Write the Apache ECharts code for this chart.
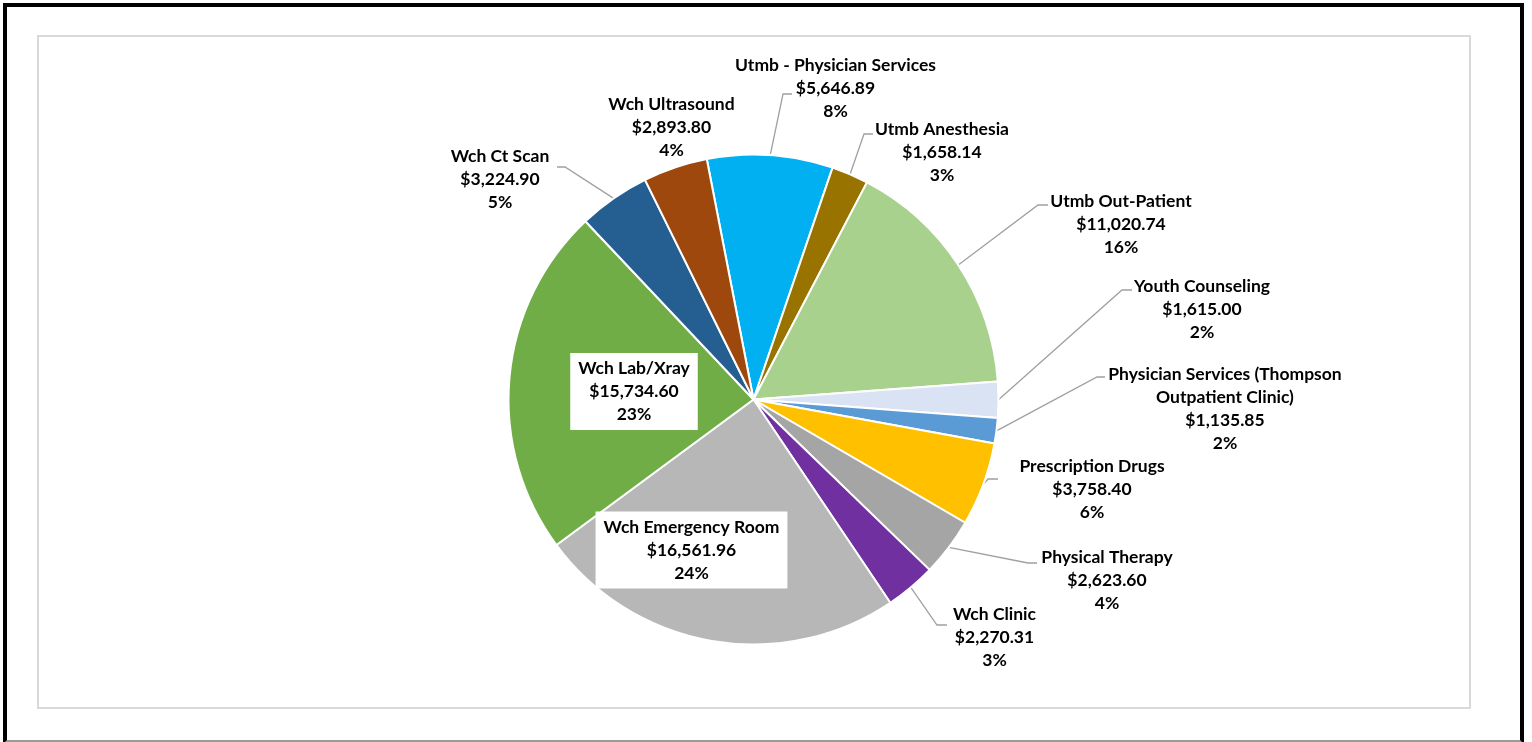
<!DOCTYPE html>
<html>
<head>
<meta charset="utf-8">
<script src="https://cdn.jsdelivr.net/npm/echarts@6/dist/echarts.min.js"></script>
<style>
html,body{margin:0;padding:0;width:1532px;height:742px;overflow:hidden;background:#fff;}
#frame{position:absolute;left:3px;top:3px;width:1521px;height:741px;box-sizing:border-box;border:4px solid #000;border-bottom-color:#9A9A9A;}
#inner{position:absolute;left:37px;top:35px;width:1434px;height:674px;box-sizing:border-box;border:2px solid #D9D9D9;}
#chart{position:absolute;left:0;top:0;width:1532px;height:742px;}
</style>
</head>
<body>
<div id="frame"></div>
<div id="inner"></div>
<div id="chart"></div>
<script>
// ---- data ----
const categories = [
  'Utmb - Physician Services',
  'Utmb Anesthesia',
  'Utmb Out-Patient',
  'Youth Counseling',
  'Physician Services (Thompson Outpatient Clinic)',
  'Prescription Drugs',
  'Physical Therapy',
  'Wch Clinic',
  'Wch Emergency Room',
  'Wch Lab/Xray',
  'Wch Ct Scan',
  'Wch Ultrasound'
];
const amounts = [5646.89, 1658.14, 11020.74, 1615.00, 1135.85, 3758.40, 2623.60, 2270.31, 16561.96, 15734.60, 3224.90, 2893.80];

// ---- styles / layout ----
const colors = ['#00B0F0', '#997300', '#A9D18E', '#DAE3F3', '#5B9BD5', '#FFC000', '#A5A5A5', '#7030A0', '#B7B7B7', '#70AD47', '#255E91', '#9E480E'];
const boxedNames = ['Wch Emergency Room', 'Wch Lab/Xray'];
const noLineNames = ['Wch Ultrasound'];
// label centre + leader-line bend/end (page pixels)
const labelSpots = [
  { c: [835.5, 88],  bend: [783, 94],   end: [792, 94] },
  { c: [942, 152],   bend: [864, 134],  end: [873, 134] },
  { c: [1121, 224],  bend: [1038, 205], end: [1048, 205] },
  { c: [1202, 309],  bend: [1122, 290], end: [1132, 290] },
  { c: [1225, 408.5],bend: [1097, 377], end: [1105, 377] },
  { c: [1092, 489],  bend: [988, 479],  end: [998, 479] },
  { c: [1107, 580],  bend: [1028, 563], end: [1037, 563] },
  { c: [994.5, 637], bend: [937, 625],  end: [947, 625] },
  { c: [691.5, 550] },
  { c: [634, 391.5] },
  { c: [500, 179],   bend: [565, 167],  end: [557, 167] },
  { c: [671.5, 127] }
];

function wrapName(n) {
  if (n.length <= 28) return n;
  const cut = n.lastIndexOf(' ', 28);
  return n.slice(0, cut) + '\n' + n.slice(cut + 1);
}
function money(v) {
  return '$' + v.toLocaleString('en-US', { minimumFractionDigits: 2, maximumFractionDigits: 2 });
}

const seriesData = categories.map(function (name, i) {
  const item = { name: name, value: amounts[i], itemStyle: { color: colors[i] } };
  if (boxedNames.indexOf(name) >= 0) {
    item.label = { backgroundColor: '#FFFFFF', padding: [4, 8, 4, 8] };
    item.labelLine = { show: false };
  } else if (noLineNames.indexOf(name) >= 0) {
    item.labelLine = { show: false };
  }
  return item;
});

const chart = echarts.init(document.getElementById('chart'), null, { renderer: 'canvas' });
chart.setOption({
  animation: false,
  backgroundColor: 'transparent',
  series: [{
    type: 'pie',
    center: [753.5, 399.5],
    radius: 245,
    startAngle: 101,
    clockwise: true,
    avoidLabelOverlap: false,
    percentPrecision: 0,
    itemStyle: { borderColor: '#FFFFFF', borderWidth: 2 },
    emphasis: { disabled: true },
    label: {
      show: true,
      position: 'outside',
      fontFamily: 'Lato',
      fontWeight: 'bold',
      fontSize: 17.5,
      lineHeight: 23,
      color: '#000000',
      align: 'center',
      formatter: function (p) {
        return wrapName(p.name) + '\n' + money(p.value) + '\n' + p.percent + '%';
      }
    },
    labelLine: {
      show: true,
      length: 20,
      length2: 10,
      lineStyle: { color: '#A0A0A0', width: 1.3 }
    },
    labelLayout: function (p) {
      const s = labelSpots[p.dataIndex];
      const out = { x: s.c[0], y: s.c[1], align: 'center', verticalAlign: 'middle' };
      if (s.bend && p.labelLinePoints) {
        out.labelLinePoints = [p.labelLinePoints[0], s.bend, s.end];
      }
      return out;
    },
    data: seriesData
  }]
});
</script>
</body>
</html>
